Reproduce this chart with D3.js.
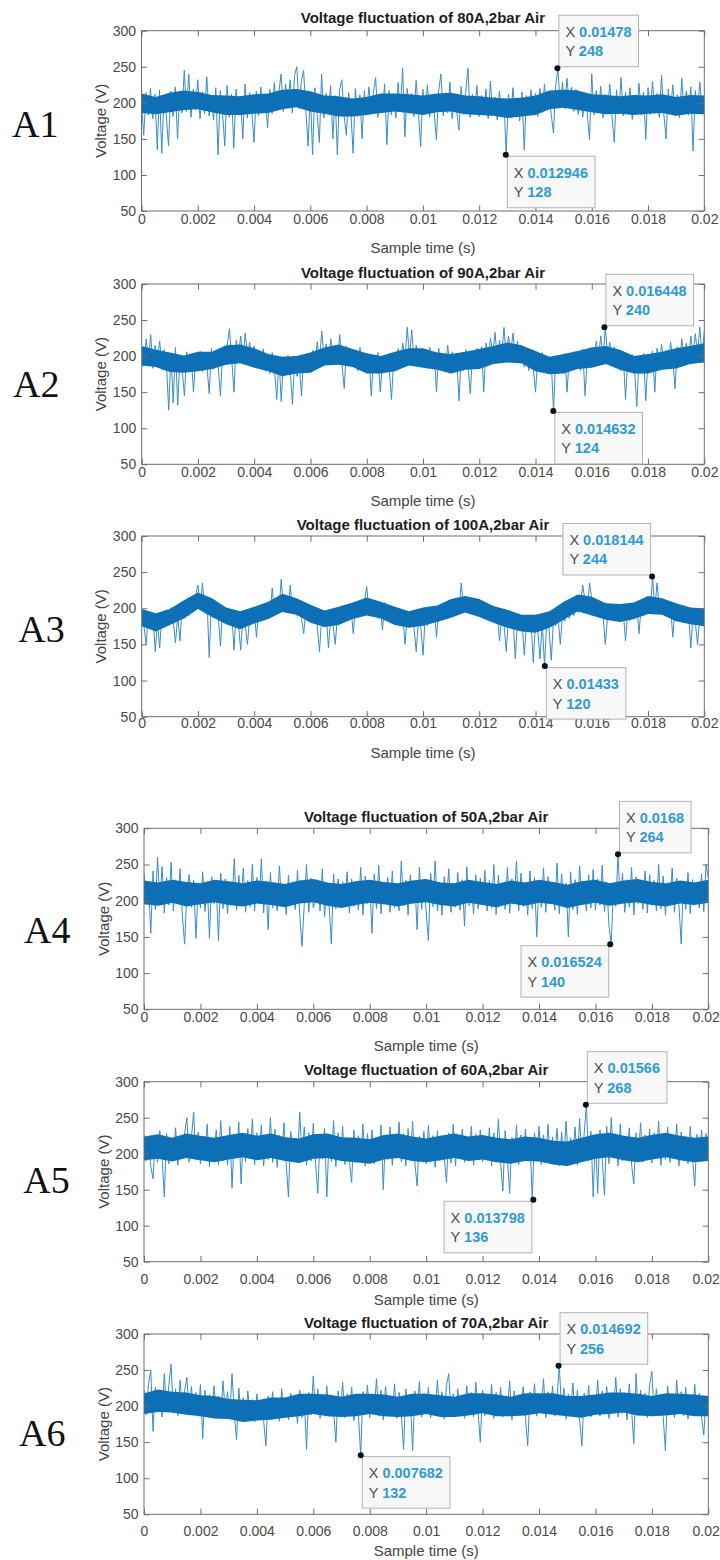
<!DOCTYPE html>
<html><head><meta charset="utf-8">
<script src="https://cdn.jsdelivr.net/npm/d3@7"></script>
<style>body{margin:0;background:#fff}svg{display:block}</style>
</head><body>
<svg id="c" width="720" height="1560"></svg>
<script>
// ---------- data ----------
const timeStart = 0, timeEnd = 0.02;
const yMin = 50, yMax = 300;
const xTicks = [0,0.002,0.004,0.006,0.008,0.01,0.012,0.014,0.016,0.018,0.02];
const xTickLabels = ["0","0.002","0.004","0.006","0.008","0.01","0.012","0.014","0.016","0.018","0.02"];
const yTicks = [50,100,150,200,250,300];
const panelNames = ["A1","A2","A3","A4","A5","A6"];
const titles = ["Voltage fluctuation of 80A,2bar Air","Voltage fluctuation of 90A,2bar Air","Voltage fluctuation of 100A,2bar Air",
                "Voltage fluctuation of 50A,2bar Air","Voltage fluctuation of 60A,2bar Air","Voltage fluctuation of 70A,2bar Air"];
const xLabel = "Sample time (s)";
const yLabel = "Voltage (V)";

// voltage samples, evenly spaced over 0..0.02 s (one row = 0.002 s)
const volt80A = [
200,155,214,183,220,178,212,135,218,130,209,184,140,216,181,222,150,213,186,245,188,240,180,219,191,
232,178,215,185,236,182,210,176,221,128,217,186,140,224,180,212,137,219,183,208,150,226,179,214,188,
145,216,182,222,187,211,165,219,185,228,190,214,240,188,226,194,232,186,238,250,192,230,245,189,140,
215,128,221,184,145,240,179,213,186,224,150,210,128,218,232,182,155,214,187,130,220,181,211,150,217,
184,222,188,214,235,180,209,186,226,142,217,183,212,179,228,190,248,153,220,185,213,181,231,187,139,
219,184,225,180,211,188,149,216,240,182,214,186,229,178,210,189,162,223,184,215,248,180,212,187,224,
181,210,185,219,178,230,183,208,176,216,184,205,128,212,179,221,182,207,175,215,135,210,183,218,186,
213,181,220,187,226,190,212,184,158,224,248,195,229,192,234,197,222,188,219,184,215,180,209,186,149,
240,183,217,186,223,179,212,188,226,181,145,218,185,235,182,214,189,221,177,210,186,227,183,215,149,
221,184,230,188,213,180,238,185,150,219,187,225,182,211,179,234,186,216,183,222,133,217,188,229,184,
205];
const volt90A = [
208,186,224,192,230,183,215,195,221,181,209,188,125,204,135,212,132,200,180,145,206,178,201,150,197,
184,207,178,203,186,148,211,182,199,185,145,208,190,215,238,196,150,222,200,228,195,232,203,219,190,
214,188,206,182,210,179,200,176,205,183,140,198,137,194,175,201,180,133,196,172,190,145,199,181,203,
180,208,186,220,192,235,198,217,190,224,196,212,193,230,188,155,214,191,209,185,203,180,212,184,198,
180,201,145,196,182,205,150,192,178,200,184,140,197,186,210,190,218,194,240,200,236,193,215,188,207,
186,209,183,212,190,204,150,211,181,200,187,215,179,206,184,198,138,203,180,209,188,148,202,185,211,
190,213,150,218,196,225,200,233,198,222,203,240,196,228,205,232,199,221,190,214,185,207,180,202,183,
150,198,178,205,183,196,175,192,124,200,181,194,177,203,150,198,184,206,186,201,180,210,145,197,188,
212,194,221,200,228,197,240,203,219,191,213,186,205,180,200,140,196,178,202,182,130,198,176,204,138,
200,184,207,150,211,189,216,193,208,186,219,196,155,213,192,224,198,218,195,228,201,231,204,240,199,
235];
const volt100A = [
200,175,150,196,178,192,140,182,145,194,176,198,180,201,183,152,190,155,204,186,209,190,214,195,218,
232,198,235,200,215,132,212,194,207,190,148,203,186,199,181,196,142,192,178,142,188,176,150,191,179,
195,160,199,182,204,186,208,190,228,194,214,198,240,200,216,195,232,197,210,190,206,186,165,200,184,
196,180,192,176,140,188,174,191,145,186,178,150,189,181,195,183,198,186,201,165,204,188,206,190,210,
230,194,211,190,207,186,204,170,208,188,202,184,199,180,196,178,193,150,190,176,188,173,140,186,175,
135,190,176,194,180,197,160,199,184,202,188,204,190,208,193,211,196,235,200,213,198,210,196,207,192,
205,190,202,187,198,184,196,182,193,155,190,178,140,188,176,186,130,184,172,182,135,180,170,183,125,
181,170,130,179,120,183,172,128,185,176,189,150,192,182,196,186,200,190,204,194,207,232,210,198,235,
212,196,208,192,205,190,150,188,201,186,198,183,196,181,194,155,197,183,200,186,203,165,206,190,209,
213,195,244,198,235,200,212,196,208,193,204,160,201,188,199,186,197,184,194,145,192,181,150,187,183,
190];
const volt50A = [
238,195,225,155,241,188,260,201,247,183,232,194,253,186,229,198,244,180,140,212,236,191,228,148,218,
190,240,185,226,148,233,196,221,145,238,189,230,182,222,194,258,187,235,199,245,184,228,192,250,186,
232,196,258,183,227,160,239,190,224,186,248,193,220,181,235,197,226,188,242,180,137,195,250,184,231,
190,200,229,186,244,178,222,194,140,237,189,230,192,226,198,240,183,230,192,221,187,246,180,234,196,
225,155,237,189,249,182,223,197,232,184,241,190,218,186,255,193,228,180,236,196,224,160,246,188,230,
185,145,238,192,255,186,226,180,233,196,244,184,221,191,239,187,229,165,247,193,223,182,236,189,231,
197,242,186,228,190,250,181,235,194,222,188,246,183,230,197,255,186,238,192,226,180,241,189,232,150,
228,191,245,184,233,196,220,187,252,182,237,193,224,150,240,188,229,181,248,195,222,186,236,190,243,
187,230,194,249,185,226,165,140,221,192,264,197,238,184,229,191,246,180,233,196,224,188,241,183,236,
195,228,186,250,189,234,180,222,197,245,184,231,193,140,226,188,239,182,229,196,224,190,237,185,250,
232];
const volt60A = [
226,190,215,183,165,221,188,232,195,140,228,186,219,193,236,184,224,197,229,250,188,222,258,191,230,
186,224,193,241,182,218,197,233,185,246,190,221,184,238,152,227,195,244,158,222,189,235,193,248,185,
229,196,240,183,223,192,250,188,234,181,226,197,243,186,140,231,193,221,187,258,195,237,184,229,190,
242,186,145,227,193,235,140,223,189,246,182,229,196,238,185,221,191,160,233,188,225,194,241,183,228,
195,233,186,222,190,240,150,226,192,237,184,221,196,244,189,228,183,235,192,245,187,155,224,193,231,
186,239,194,225,181,232,190,220,197,160,229,187,241,183,226,195,234,188,222,192,238,184,227,196,233,
189,224,195,236,183,229,192,248,187,148,232,194,145,223,188,240,185,226,197,234,190,221,136,229,193,
238,185,226,194,241,188,223,196,235,183,230,191,245,187,222,198,237,184,249,193,227,268,190,231,140,
225,145,233,192,142,238,186,250,194,228,183,241,190,224,197,236,185,158,229,193,243,188,226,195,234,
187,229,196,245,184,223,192,237,188,226,195,241,183,230,191,224,186,238,194,155,227,189,233,196,228,
205];
const volt70A = [
222,188,231,250,165,226,193,218,185,245,196,229,258,190,224,187,236,194,221,240,189,227,192,219,186,
230,155,222,191,216,184,228,189,214,182,235,193,220,186,245,190,153,225,184,212,180,221,188,209,178,
217,185,206,180,145,214,187,220,183,208,179,224,186,211,181,218,189,207,176,222,184,213,140,219,188,
242,190,224,183,215,192,228,186,211,194,150,221,189,233,184,217,191,226,180,212,187,132,220,190,229,
184,216,192,238,186,222,181,227,194,210,188,231,183,219,190,140,224,186,213,138,221,192,234,185,218,
191,226,184,215,193,236,188,220,182,229,245,190,217,186,224,195,211,183,228,189,219,185,233,192,150,
222,187,214,194,230,183,219,190,226,185,212,193,235,181,221,188,216,195,227,184,145,220,189,231,186,
215,192,238,184,220,190,228,186,213,256,194,225,182,217,191,232,187,222,180,145,218,193,229,185,214,
190,236,186,221,194,227,183,216,192,240,185,224,190,212,181,231,195,148,245,187,222,193,218,184,229,
248,188,224,195,217,186,138,228,191,214,184,236,193,220,187,226,182,213,195,230,189,218,185,160,212,
196];

// densest part of each trace (upper / lower edge), every 0.0005 s
const core80AUpper = [213,208,214,217,215,211,210,209,212,213,218,219,216,210,209,206,208,213,213,212,210,213,214,210,209,207,206,207,210,217,218,217,212,211,209,211,210,212,208,211,210];
const core80ALower = [186,184,187,190,191,187,183,183,185,186,191,194,188,185,181,181,183,186,188,186,183,187,188,184,183,182,179,181,183,191,193,190,187,184,185,183,185,186,182,185,184];
const core90AUpper = [214,209,205,201,206,206,215,216,211,203,199,200,205,212,216,210,204,200,206,211,211,205,203,206,210,214,219,215,207,199,203,207,212,214,209,200,203,206,211,214,218];
const core90ALower = [187,185,178,177,179,182,188,190,184,179,172,176,177,187,188,185,176,176,179,187,184,181,176,181,182,189,191,190,179,175,176,182,184,189,181,176,176,181,183,189,191];
const core100AUpper = [199,193,199,211,222,214,201,196,202,209,220,214,205,197,202,208,215,209,202,196,201,204,213,217,213,203,198,191,191,196,209,219,216,207,206,208,217,214,207,201,200];
const core100ALower = [175,168,177,186,199,188,178,171,179,185,195,191,180,174,177,185,190,186,177,173,176,181,187,194,188,180,173,168,166,173,184,196,190,184,181,185,192,191,182,178,175];
const core50AUpper = [228,225,229,226,224,229,227,224,228,226,223,228,230,225,223,227,229,226,224,228,230,225,224,229,226,223,228,225,229,226,222,227,229,224,228,230,226,224,228,225,229];
const core50ALower = [195,193,197,192,195,198,194,192,196,194,191,196,198,193,190,194,197,195,192,196,198,194,192,197,194,191,196,193,197,195,190,194,197,193,196,198,194,192,196,194,197];
const core60AUpper = [224,227,222,228,225,222,226,229,225,228,223,221,227,228,223,222,220,226,228,224,221,225,228,224,226,222,220,224,222,218,217,222,227,229,225,222,226,229,225,222,224];
const core60ALower = [191,193,189,194,191,188,192,195,191,194,190,187,193,194,190,188,186,192,194,190,188,191,194,190,192,188,186,190,189,185,183,188,193,195,191,188,192,195,191,188,190];
const core70AUpper = [218,223,220,219,215,214,210,209,208,212,212,217,217,216,213,217,217,216,213,217,217,215,213,218,218,216,213,218,218,218,214,214,216,219,219,217,214,218,217,216,214];
const core70ALower = [189,192,191,188,186,183,182,178,180,181,184,186,189,186,185,186,189,186,185,186,189,185,185,187,190,186,186,187,190,188,186,184,188,189,191,187,186,187,189,186,186];

// data tips (x, y as shown)
const tips80A  = [{x:0.01478, y:248, pos:"ne"}, {x:0.012946, y:128, pos:"se"}];
const tips90A  = [{x:0.016448, y:240, pos:"ne"}, {x:0.014632, y:124, pos:"se"}];
const tips100A = [{x:0.018144, y:244, pos:"nw"}, {x:0.01433, y:120, pos:"se"}];
const tips50A  = [{x:0.0168, y:264, pos:"ne"}, {x:0.016524, y:140, pos:"sw"}];
const tips60A  = [{x:0.01566, y:268, pos:"ne"}, {x:0.013798, y:136, pos:"sw"}];
const tips70A  = [{x:0.014692, y:256, pos:"ne"}, {x:0.007682, y:132, pos:"se"}];

const seriesList = [volt80A, volt90A, volt100A, volt50A, volt60A, volt70A];
const coreUpperList = [core80AUpper, core90AUpper, core100AUpper, core50AUpper, core60AUpper, core70AUpper];
const coreLowerList = [core80ALower, core90ALower, core100ALower, core50ALower, core60ALower, core70ALower];
const tipsList = [tips80A, tips90A, tips100A, tips50A, tips60A, tips70A];

// ---------- layout (pixels) ----------
const layout = [
  {L:141.5,R:704.3,T:30.7, B:211,   titleBL:23.3,  tickBL:223.5, xlabBL:253,   labX:12,   labBL:136.7, ylabX:100},
  {L:141.7,R:704.3,T:284,  B:464.3, titleBL:277.5, tickBL:476.7, xlabBL:506,   labX:13,   labBL:396.7, ylabX:100},
  {L:141.7,R:704.3,T:536,  B:716.7, titleBL:530,   tickBL:728.3, xlabBL:758,   labX:18.3, labBL:641.7, ylabX:100},
  {L:144,  R:708.3,T:828.3,B:1009.3,titleBL:821.7, tickBL:1021.7,xlabBL:1050.5,labX:24,   labBL:943.3, ylabX:103},
  {L:144,  R:708.3,T:1081.7,B:1261.7,titleBL:1075, tickBL:1284,  xlabBL:1304.5,labX:23.3, labBL:1193.3,ylabX:103},
  {L:144,  R:708.3,T:1334, B:1514.3,titleBL:1328.3,tickBL:1536,  xlabBL:1556,  labX:19,   labBL:1446,  ylabX:103}
];

const SANS = "'Liberation Sans', Arial, Helvetica, sans-serif";
const SERIF = "'Liberation Serif', 'Times New Roman', serif";
const axisColor = "#6e6e6e", tickTextColor = "#4a4a4a";
const lineColor = "#3a8cca", coreColor = "#0b6fb6";
const tickFs = 14, tickLen = 5.6;

const svg = d3.select("#c");
const defs = svg.append("defs");
defs.append("filter").attr("id", "soft").attr("x", "-2%").attr("y", "-20%").attr("width", "104%").attr("height", "140%")
  .append("feGaussianBlur").attr("stdDeviation", 0.7);

seriesList.forEach((vals, k) => {
  const g = layout[k];
  const x = d3.scaleLinear().domain([timeStart, timeEnd]).range([g.L, g.R]);
  const y = d3.scaleLinear().domain([yMin, yMax]).range([g.B, g.T]);
  const n = vals.length, dt = (timeEnd - timeStart) / (n - 1);

  const clipId = "clip" + k;
  defs.append("clipPath").attr("id", clipId).append("rect")
    .attr("x", g.L).attr("y", g.T).attr("width", g.R - g.L).attr("height", g.B - g.T);
  const plot = svg.append("g").attr("clip-path", `url(#${clipId})`);

  // full trace (its outer excursions show as the lighter fringe)
  const line = d3.line().x((d, i) => x(timeStart + i * dt)).y(d => y(d));
  plot.append("path").datum(vals).attr("d", line)
    .attr("fill", "none").attr("stroke", lineColor).attr("stroke-width", 1);

  // dense core of the trace on top
  const up = coreUpperList[k], lo = coreLowerList[k];
  const cdt = (timeEnd - timeStart) / (up.length - 1);
  const area = d3.area().x((d, i) => x(timeStart + i * cdt)).y0((d, i) => y(lo[i])).y1(d => y(d));
  plot.append("path").datum(up).attr("d", area).attr("fill", coreColor).attr("filter", "url(#soft)");

  const styleAxis = sel => {
    sel.select(".domain").remove();
    sel.selectAll(".tick line").attr("stroke", axisColor);
    sel.selectAll("text").attr("fill", tickTextColor).attr("font-size", tickFs).attr("font-family", SANS);
  };
  const bx = svg.append("g").attr("transform", `translate(0,${g.B})`)
    .call(d3.axisBottom(x).tickValues(xTicks).tickFormat((d, i) => xTickLabels[i])
      .tickSizeInner(-tickLen).tickSizeOuter(0).tickPadding(g.tickBL - g.B - 0.71 * tickFs))
    .call(styleAxis);
  // keep the last tick label inside the page
  bx.selectAll(".tick text").each(function () {
    const b = this.getBBox(), cx = x(+d3.select(this.parentNode).datum());
    const right = cx + b.x + b.width;
    if (right > 719.5) d3.select(this).attr("dx", (719.5 - right) + "px");
  });
  svg.append("g").attr("transform", `translate(0,${g.T})`)
    .call(d3.axisTop(x).tickValues(xTicks).tickFormat("").tickSizeInner(-tickLen).tickSizeOuter(0))
    .call(styleAxis);
  svg.append("g").attr("transform", `translate(${g.L},0)`)
    .call(d3.axisLeft(y).tickValues(yTicks).tickFormat(d3.format("d")).tickSizeInner(-tickLen).tickSizeOuter(0).tickPadding(5.5))
    .call(styleAxis);
  svg.append("g").attr("transform", `translate(${g.R},0)`)
    .call(d3.axisRight(y).tickValues(yTicks).tickFormat("").tickSizeInner(-tickLen).tickSizeOuter(0))
    .call(styleAxis);

  svg.append("rect").attr("x", g.L).attr("y", g.T).attr("width", g.R - g.L).attr("height", g.B - g.T)
    .attr("fill", "none").attr("stroke", axisColor).attr("stroke-width", 1);

  svg.append("text").attr("x", (g.L + g.R) / 2).attr("y", g.titleBL).attr("text-anchor", "middle")
    .attr("font-family", SANS).attr("font-size", 15).attr("font-weight", "bold").attr("fill", "#1e1e1e")
    .text(titles[k]);
  svg.append("text").attr("x", (g.L + g.R) / 2).attr("y", g.xlabBL).attr("text-anchor", "middle")
    .attr("font-family", SANS).attr("font-size", 15).attr("fill", "#444").text(xLabel);
  svg.append("text").attr("transform", `translate(${g.ylabX},${(g.T + g.B) / 2}) rotate(-90)`)
    .attr("text-anchor", "middle").attr("dominant-baseline", "central")
    .attr("font-family", SANS).attr("font-size", 15).attr("fill", "#444").text(yLabel);
  svg.append("text").attr("x", g.labX).attr("y", g.labBL)
    .attr("font-family", SERIF).attr("font-size", 38).attr("fill", "#111").text(panelNames[k]);

  // data tips
  tipsList[k].forEach(t => {
    const px = x(t.x), py = y(t.y);
    const tg = svg.append("g");
    const rows = [["X", t.x], ["Y", t.y]];
    const txt = rows.map(([lab, v]) => {
      const te = tg.append("text").attr("font-family", SANS).attr("font-size", 14.5);
      te.append("tspan").attr("fill", "#4d4d4d").text(lab + " ");
      te.append("tspan").attr("fill", "#2f9bd3").attr("font-weight", "bold").text(String(v));
      return te;
    });
    const w = d3.max(txt, te => te.node().getComputedTextLength()) + 13.5;
    const h = 51.5, gap = 1.5;
    const left = t.pos.endsWith("e") ? px + gap : px - gap - w;
    const top = t.pos.startsWith("n") ? py - gap - h : py + gap;
    tg.insert("rect", ":first-child").attr("x", left).attr("y", top).attr("width", w).attr("height", h)
      .attr("fill", "#f8f8f8").attr("stroke", "#b2b2b2").attr("stroke-width", 1);
    txt[0].attr("x", left + 6.5).attr("y", top + 21.6);
    txt[1].attr("x", left + 6.5).attr("y", top + 41);
    svg.append("circle").attr("cx", px).attr("cy", py).attr("r", 3).attr("fill", "#111");
  });
});
</script>
</body></html>
